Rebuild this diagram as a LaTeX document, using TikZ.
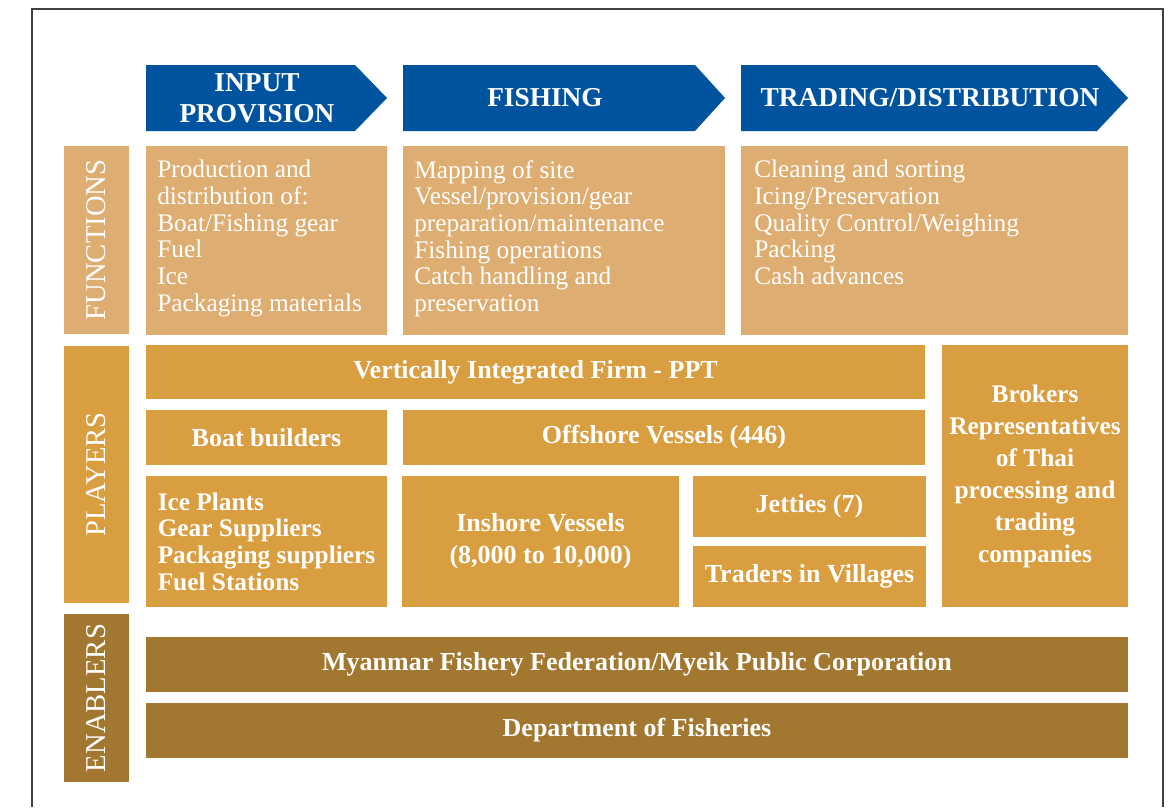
\documentclass[tikz,border=0pt]{standalone}
\usepackage{fontspec}
\setmainfont{Liberation Serif}
\usetikzlibrary{fit}

\definecolor{hdrblue}{RGB}{0,84,159}
\definecolor{fncol}{RGB}{221,173,113}
\definecolor{plcol}{RGB}{217,158,64}
\definecolor{encol}{RGB}{162,119,48}

\begin{document}
\begin{tikzpicture}[x=0.75pt,y=-0.75pt,
  sz/.style 2 args={minimum width=#1*0.75pt, minimum height=#2*0.75pt},
  blk/.style={inner sep=0pt, outer sep=0pt, text=white, align=center,
    font=\fontsize{19.5}{24}\selectfont\bfseries},
  fnbox/.style={blk, fill=fncol},
  plbox/.style={blk, fill=plcol},
  enbox/.style={blk, fill=encol},
  hdrtext/.style={text=white, inner sep=0pt, align=center,
    font=\fontsize{20.5}{23}\selectfont\bfseries},
  fntext/.style={text=white, inner sep=0pt, align=left,
    font=\fontsize{19}{20}\selectfont},
  sidetext/.style={text=white, inner sep=0pt, rotate=90,
    font=\fontsize{21.5}{22}\selectfont}]
\useasboundingbox (0,0) rectangle (1169,807);
\fill[white] (0,0) rectangle (1169,807);
% frame
\draw[black!75, line width=1pt] (32,807) -- (32,9) -- (1163,9) -- (1163,807);

% stage headers
\fill[hdrblue] (146,65) -- (355,65) -- (387,98) -- (355,131) -- (146,131) -- cycle;
\fill[hdrblue] (403,65) -- (695,65) -- (725,98) -- (695,131) -- (403,131) -- cycle;
\fill[hdrblue] (741,65) -- (1097,65) -- (1128,98) -- (1097,131) -- (741,131) -- cycle;
\node[hdrtext] (hinput) at (257,98) {INPUT\\PROVISION};
\node[hdrtext] (hfish) at (545,98) {FISHING};
\node[hdrtext] (htrade) at (930,98) {TRADING/DISTRIBUTION};

% row labels
\node[fnbox, fit={(64,146) (129,334)}] (lfn) {};
\node[plbox, fit={(64,346) (129,603)}] (lpl) {};
\node[enbox, fit={(64,614) (129,782)}] (len) {};
\node[sidetext] at (lfn.center) {FUNCTIONS};
\node[sidetext] at (lpl.center) {PLAYERS};
\node[sidetext] at (len.center) {ENABLERS};

% functions
\node[fnbox, fit={(146,146) (387,335)}] (fa) {};
\node[fnbox, fit={(403,146) (725,335)}] (fb) {};
\node[fnbox, fit={(741,146) (1128,335)}] (fc) {};
\node[fntext, anchor=north west] at ([shift={(11,14)}]fa.north west)
  {Production and\\distribution of:\\Boat/Fishing gear\\Fuel\\Ice\\Packaging materials};
\node[fntext, anchor=north west] at ([shift={(11,14)}]fb.north west)
  {Mapping of site\\Vessel/provision/gear\\preparation/maintenance\\Fishing operations\\Catch handling and\\preservation};
\node[fntext, anchor=north west] at ([shift={(13,14)}]fc.north west)
  {Cleaning and sorting\\Icing/Preservation\\Quality Control/Weighing\\Packing\\Cash advances};

% players
\node[plbox, sz={779}{54}] (vif) at (535.5,372) {Vertically Integrated Firm - PPT};
\node[plbox, sz={241}{55}] (boat) at (266.5,437.5) {Boat builders};
\node[plbox, sz={522}{55}] (offsh) at (664,437.5) {Offshore Vessels (446)};
\node[plbox, sz={241}{131}, align=left,
  font=\fontsize{19}{20}\selectfont\bfseries] (suppl) at (266.5,541.5)
  {Ice Plants\\Gear Suppliers\\Packaging suppliers\\Fuel Stations};
\node[plbox, sz={277}{131}] (inshr) at (540.5,541.5) {Inshore Vessels\\(8,000 to 10,000)};
\node[plbox, sz={233}{61}] (jetty) at (809.5,506.5) {Jetties (7)};
\node[plbox, sz={233}{61}] (trdr) at (809.5,576.5) {Traders in Villages};
\node[plbox, sz={186}{262}, font=\fontsize{19}{24}\selectfont\bfseries] (brok) at (1035,476)
  {Brokers\\Representatives\\of Thai\\processing and\\trading\\companies};

% enablers
\node[enbox, sz={982}{55}] (mff) at (637,664.5) {Myanmar Fishery Federation/Myeik Public Corporation};
\node[enbox, sz={982}{55}] (dof) at (637,730.5) {Department of Fisheries};
\end{tikzpicture}
\end{document}
